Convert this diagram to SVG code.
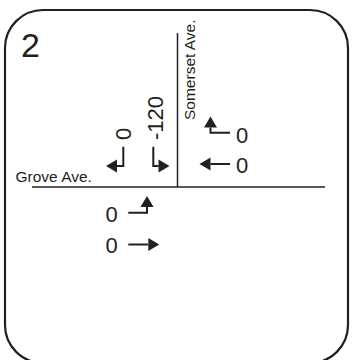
<svg xmlns="http://www.w3.org/2000/svg" width="352" height="360" viewBox="0 0 352 360">
<defs>
<style>
.lbl{font-family:"Liberation Sans",Arial,sans-serif;fill:#231f20}
.vol{font-size:22px}
.street{font-size:15.5px}
.road{stroke:#231f20;stroke-width:1.5;fill:none}
.arr{stroke:#231f20;stroke-width:2;fill:none;marker-end:url(#head)}
</style>
<marker id="head" markerUnits="userSpaceOnUse" markerWidth="12" markerHeight="13" refX="0" refY="6.5" orient="auto" overflow="visible">
<path d="M0,0 L11,6.5 L0,13 Z" fill="#231f20"/>
</marker>
</defs>
<rect x="0" y="0" width="352" height="360" fill="#fff"/>
<g id="frame">
<rect x="5" y="10" width="343" height="353" rx="38" ry="38" fill="#fff" stroke="#231f20" stroke-width="2.2"/>
<text class="lbl" x="21" y="57" font-size="34">2</text>
</g>
<g id="roads">
<line class="road" x1="177.5" y1="33" x2="177.5" y2="187"/>
<line class="road" x1="32" y1="187" x2="325" y2="187"/>
<text id="somerset" class="lbl street" transform="translate(195,120) rotate(-90)">Somerset Ave.</text>
<text id="grove" class="lbl street" x="15.5" y="182">Grove Ave.</text>
</g>
<g id="connectors">
<polyline id="sb-left" class="arr" points="123.3,146.7 123.3,166 117,166"/>
<polyline id="sb-right" class="arr" points="153.3,146.7 153.3,166 158.5,166"/>
<polyline id="wb-left" class="arr" points="230,132.7 210.5,132.7 210.5,127.5"/>
<polyline id="wb-thru" class="arr" points="230,164 210.5,164"/>
<polyline id="eb-left" class="arr" points="128.3,212.7 147,212.7 147,207"/>
<polyline id="eb-thru" class="arr" points="128.3,244.5 148.3,244.5"/>
</g>
<g id="labels">
<text id="sb-left-vol" class="lbl vol" transform="translate(131,140) rotate(-90)">0</text>
<text id="sb-right-vol" class="lbl vol" transform="translate(162.5,140) rotate(-90)">-120</text>
<text id="wb-left-vol" class="lbl vol" x="236" y="143.3">0</text>
<text id="wb-thru-vol" class="lbl vol" x="236" y="173">0</text>
<text id="eb-left-vol" class="lbl vol" x="105.5" y="221.5">0</text>
<text id="eb-thru-vol" class="lbl vol" x="105.5" y="253">0</text>
</g>
</svg>
